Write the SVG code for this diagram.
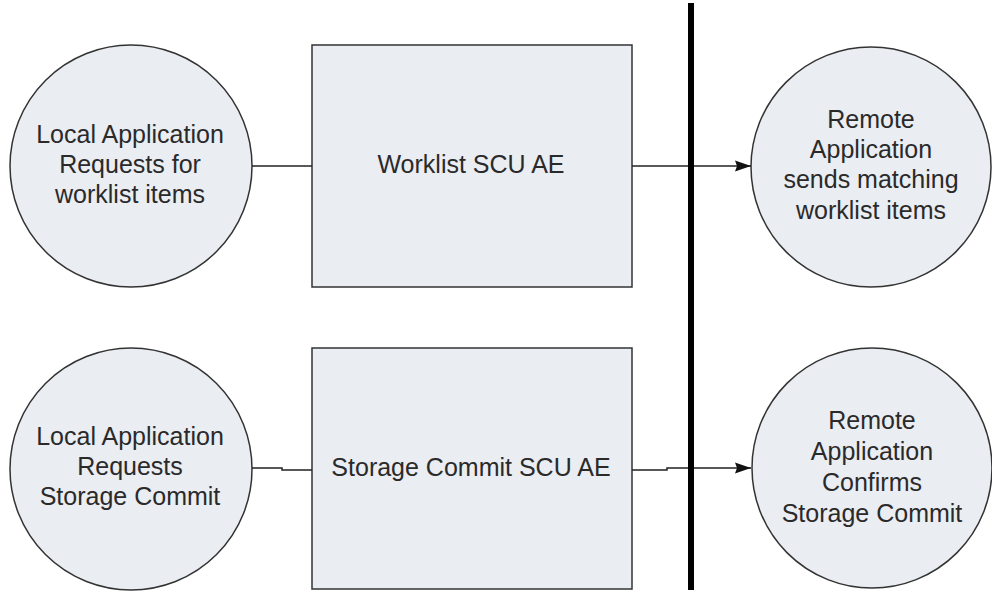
<svg xmlns="http://www.w3.org/2000/svg" width="992" height="592" viewBox="0 0 992 592">
<style>
.node{fill:#EAEDF2;stroke:#333333;stroke-width:1.5}
.t{font-family:"Liberation Sans",Arial,sans-serif;font-size:25px;fill:#2a2a2a;text-anchor:middle}
.c{fill:none;stroke:#222222;stroke-width:1.5}
</style>
<defs>
<marker id="arr" markerWidth="17" markerHeight="12" refX="16" refY="6" orient="auto" markerUnits="userSpaceOnUse">
<path d="M0,0.5 L16,6 L0,11.5 L2,6 Z" fill="#111111"/>
</marker>
</defs>
<rect width="992" height="592" fill="#ffffff"/>
<g id="n1">
<circle class="node" cx="131" cy="166" r="121"/>
<text class="t" x="130" y="143">Local Application</text>
<text class="t" x="130" y="173">Requests for</text>
<text class="t" x="130" y="203">worklist items</text>
</g>
<g id="n2">
<rect class="node" x="312" y="45" width="320" height="242"/>
<text class="t" x="471" y="173">Worklist SCU AE</text>
</g>
<g id="n3">
<circle class="node" cx="871" cy="167" r="120"/>
<text class="t" x="871" y="128">Remote</text>
<text class="t" x="871" y="158">Application</text>
<text class="t" x="871" y="188">sends matching</text>
<text class="t" x="871" y="219">worklist items</text>
</g>
<g id="n4">
<circle class="node" cx="131" cy="469" r="121"/>
<text class="t" x="130" y="445">Local Application</text>
<text class="t" x="130" y="475">Requests</text>
<text class="t" x="130" y="505">Storage Commit</text>
</g>
<g id="n5">
<rect class="node" x="312" y="348" width="320" height="241"/>
<text class="t" x="471" y="476">Storage Commit SCU AE</text>
</g>
<g id="n6">
<circle class="node" cx="872" cy="468" r="120"/>
<text class="t" x="872" y="429">Remote</text>
<text class="t" x="872" y="460">Application</text>
<text class="t" x="872" y="491">Confirms</text>
<text class="t" x="872" y="522">Storage Commit</text>
</g>
<g id="connectors">
<line class="c" x1="252" y1="166" x2="312" y2="166"/>
<line class="c" x1="632" y1="166" x2="751" y2="166" marker-end="url(#arr)"/>
<polyline class="c" points="252,468 282,468 282,470 312,470"/>
<polyline class="c" points="632,470 667,470 667,468 751,468" marker-end="url(#arr)"/>
<line x1="691" y1="3" x2="691" y2="590" stroke="#000000" stroke-width="6"/>
</g>
</svg>
